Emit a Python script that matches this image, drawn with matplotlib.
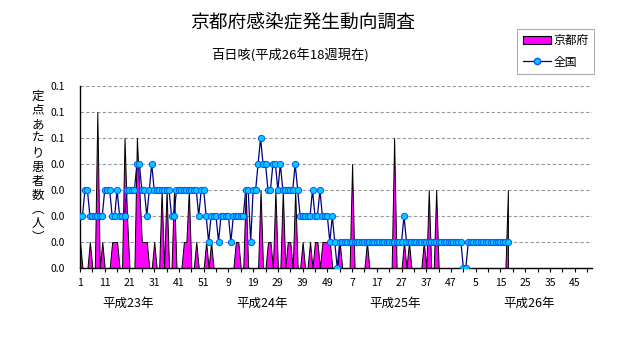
import matplotlib
matplotlib.use("Agg")
import matplotlib.pyplot as plt
from matplotlib.patches import Patch
from matplotlib.lines import Line2D
import numpy as np

plt.rcParams['font.family'] = ['Noto Sans CJK JP', 'DejaVu Sans']

# ---- data (per-sentinel values, weekly) ----
kyoto_h23 = [0.01, 0, 0, 0, 0.01, 0, 0, 0.06, 0, 0.01,
             0, 0, 0, 0.01, 0.01, 0.01, 0, 0, 0.05, 0.02,
             0, 0, 0, 0.05, 0.03, 0.01, 0.01, 0.01, 0, 0,
             0.01, 0, 0, 0.03, 0, 0.03, 0, 0, 0.03, 0,
             0, 0, 0.01, 0.01, 0.03, 0, 0, 0.01, 0, 0,
             0, 0.01]
kyoto_h24 = [0, 0.01, 0, 0, 0, 0, 0, 0, 0, 0,
             0, 0.01, 0.01, 0, 0, 0.03, 0, 0, 0, 0,
             0, 0.03, 0, 0, 0.01, 0.01, 0, 0.03, 0, 0,
             0.03, 0, 0.01, 0.01, 0, 0.03, 0, 0, 0.01, 0,
             0, 0.01, 0, 0.01, 0.01, 0, 0.01, 0.01, 0.01, 0.01,
             0, 0]
kyoto_h25 = [0, 0.01, 0, 0, 0, 0, 0.04, 0, 0, 0,
             0, 0, 0.01, 0, 0, 0, 0, 0, 0, 0,
             0, 0, 0, 0.05, 0, 0, 0, 0.01, 0, 0.01,
             0, 0, 0, 0, 0, 0.01, 0, 0.03, 0, 0,
             0.03, 0, 0, 0, 0, 0, 0, 0, 0, 0,
             0, 0]
kyoto_h26 = [0, 0, 0, 0, 0, 0, 0, 0, 0, 0,
             0, 0, 0, 0, 0, 0, 0, 0.03]

national_h23 = [0.02, 0.02, 0.03, 0.03, 0.02, 0.02, 0.02, 0.02, 0.02, 0.02,
                0.03, 0.03, 0.03, 0.02, 0.02, 0.03, 0.02, 0.02, 0.02, 0.03,
                0.03, 0.03, 0.03, 0.04, 0.04, 0.03, 0.03, 0.02, 0.03, 0.04,
                0.03, 0.03, 0.03, 0.03, 0.03, 0.03, 0.03, 0.02, 0.02, 0.03,
                0.03, 0.03, 0.03, 0.03, 0.03, 0.03, 0.03, 0.03, 0.02, 0.03,
                0.03, 0.02]
national_h24 = [0.01, 0.02, 0.02, 0.02, 0.01, 0.02, 0.02, 0.02, 0.02, 0.01,
                0.02, 0.02, 0.02, 0.02, 0.02, 0.03, 0.03, 0.01, 0.03, 0.03,
                0.04, 0.05, 0.04, 0.04, 0.03, 0.03, 0.04, 0.04, 0.03, 0.04,
                0.03, 0.03, 0.03, 0.03, 0.03, 0.04, 0.03, 0.02, 0.02, 0.02,
                0.02, 0.02, 0.03, 0.02, 0.02, 0.03, 0.02, 0.02, 0.02, 0.01,
                0.02, 0.01]
national_h25 = [0.00, 0.01, 0.01, 0.01, 0.01, 0.01, 0.01, 0.01, 0.01, 0.01,
                0.01, 0.01, 0.01, 0.01, 0.01, 0.01, 0.01, 0.01, 0.01, 0.01,
                0.01, 0.01, 0.01, 0.01, 0.01, 0.01, 0.01, 0.02, 0.01, 0.01,
                0.01, 0.01, 0.01, 0.01, 0.01, 0.01, 0.01, 0.01, 0.01, 0.01,
                0.01, 0.01, 0.01, 0.01, 0.01, 0.01, 0.01, 0.01, 0.01, 0.01,
                0.01, 0.00]
national_h26 = [0.00, 0.01, 0.01, 0.01, 0.01, 0.01, 0.01, 0.01, 0.01, 0.01,
                0.01, 0.01, 0.01, 0.01, 0.01, 0.01, 0.01, 0.01]

weeks_per_year = [52, 52, 52, 52]
year_labels = ['平成23年', '平成24年', '平成25年', '平成26年']
x_tick_labels = ['1', '11', '21', '31', '41', '51', '9', '19', '29', '39', '49',
                 '7', '17', '27', '37', '47', '5', '15', '25', '35', '45']
y_ticks = [0, 0.01, 0.02, 0.03, 0.04, 0.05, 0.06, 0.07]
y_tick_labels = ['0.0', '0.0', '0.0', '0.0', '0.0', '0.1', '0.1', '0.1']

title = '京都府感染症発生動向調査'
subtitle = '百日咳(平成26年18週現在)'
ylabel = '定点あたり患者数︵人︶'

kyoto = np.array(kyoto_h23 + kyoto_h24 + kyoto_h25 + kyoto_h26)
national = np.array(national_h23 + national_h24 + national_h25 + national_h26)
x = np.arange(len(kyoto))
n_total = sum(weeks_per_year)

# ---- figure ----
W, H = 631, 347
fig = plt.figure(figsize=(W / 100, H / 100), dpi=100)
fig.patch.set_facecolor('white')
left, right, top, bottom = 80, 592, 86, 268
ax = fig.add_axes([left / W, 1 - bottom / H, (right - left) / W, (bottom - top) / H])

ax.fill_between(x, kyoto, 0, facecolor='#FF00FF', edgecolor='black', linewidth=0.7, zorder=2)
ax.plot(x, national, color='#000080', linewidth=0.9, marker='o', markersize=4.5,
        markerfacecolor='#00CCFF', markeredgecolor='#0055FF', markeredgewidth=0.7, zorder=3)

ax.set_xlim(0, n_total - 1)
ax.set_ylim(0, 0.07)
ax.set_yticks(y_ticks)
ax.set_yticklabels(y_tick_labels, fontsize=7.5)
ax.yaxis.grid(True, linestyle=(0, (3, 2)), color='#999999', linewidth=0.8, zorder=0)
ax.set_axisbelow(True)
ax.tick_params(axis='y', length=0, pad=11)

ax.set_xticks(np.arange(0, 201, 10))
ax.set_xticklabels(x_tick_labels, fontsize=7.5)
ax.set_xticks(np.arange(5, 206, 10), minor=True)
ax.tick_params(axis='x', which='both', direction='out', length=3, width=0.8, pad=4)

for s in ['top', 'right']:
    ax.spines[s].set_visible(False)
for s in ['left', 'bottom']:
    ax.spines[s].set_color('black')
    ax.spines[s].set_linewidth(1.0)

# year labels under the axis
year_pos = [19.5, 73.5, 127.5, 181.5]
for pos, lab in zip(year_pos, year_labels):
    ax.text(pos, -0.0137, lab, ha='center', va='center', fontsize=9, transform=ax.transData,
            clip_on=False)

# titles
fig.text(303 / W, 1 - 22 / H, title, ha='center', va='center', fontsize=13.5)
fig.text(290 / W, 1 - 55 / H, subtitle, ha='center', va='center', fontsize=9.5)

# vertical y label
fig.text(38 / W, 1 - 167 / H, '\n'.join(ylabel), ha='center', va='center', fontsize=9,
         linespacing=1.12)

handles = [Patch(facecolor='#FF00FF', edgecolor='black', linewidth=0.8),
           Line2D([0], [0], color='#000080', linewidth=0.9, marker='o', markersize=4.5,
                  markerfacecolor='#00CCFF', markeredgecolor='#0055FF')]
leg = fig.legend(handles, ['京都府', '全国'], loc='upper right',
                 bbox_to_anchor=(594 / W, 1 - 29 / H), fontsize=8.5, frameon=True,
                 fancybox=False, edgecolor='#999999', handlelength=2.4, handleheight=0.7,
                 borderpad=0.45, labelspacing=0.7, handletextpad=0.2, borderaxespad=0)
leg.get_frame().set_linewidth(0.8)

fig.savefig('out.png', dpi=100)
